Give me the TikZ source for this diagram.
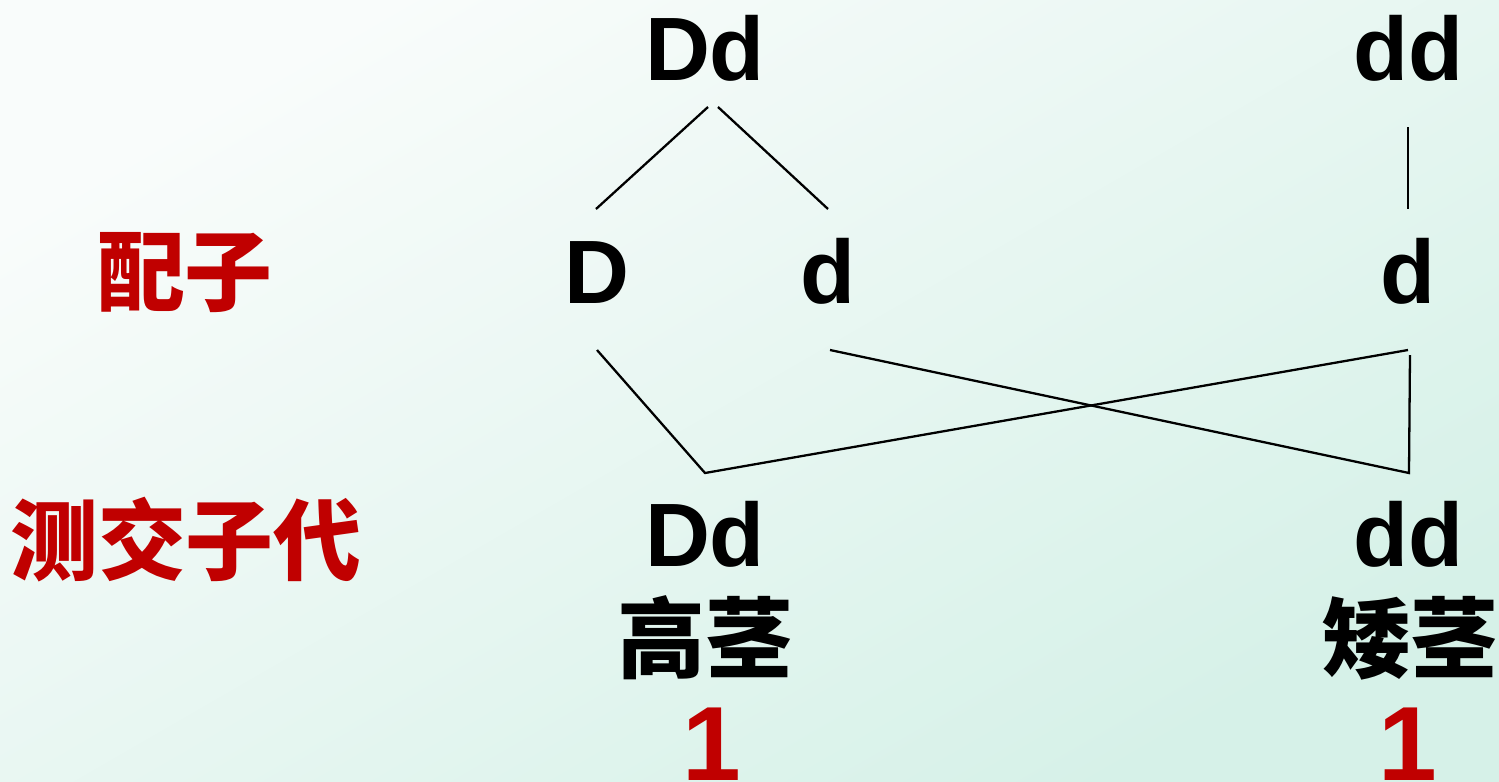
\documentclass[tikz,border=0pt]{standalone}
\usepackage{fontspec}
\usetikzlibrary{shadings}
\setmainfont{Liberation Sans}
\newfontfamily\cjk{Noto Sans CJK SC}
\definecolor{myred}{HTML}{C00000}
\definecolor{bgA}{HTML}{F9FCFB}
\definecolor{bgC}{HTML}{D6F1E8}
\begin{document}
\begin{tikzpicture}[x=0.01cm,y=-0.01cm,
  gen/.style={inner sep=0pt,anchor=base,font=\fontsize{25.6}{30}\selectfont\bfseries},
  han/.style={inner sep=0pt,anchor=center,font=\fontsize{25}{30}\selectfont\cjk\bfseries},
  redhan/.style={han,text=myred},
  ratio/.style={inner sep=0pt,anchor=base,text=myred,font=\fontsize{30}{34}\selectfont\bfseries},
  link/.style={line width=0.65pt,black}]
\shade[top color=bgA,bottom color=bgC,shading angle=30] (0,0) rectangle (1499,781);
\useasboundingbox (0,0) rectangle (1499,781);
% parents
\node[gen] (P1) at (705,80) {Dd};
\node[gen] (P2) at (1408,80) {dd};
% gametes
\node[redhan] (gl) at (185,273) {配子};
\node[gen] (gD) at (597,303) {D};
\node[gen] (gd1) at (828,303) {d};
\node[gen] (gd2) at (1408,303) {d};
% offspring
\node[redhan] (ol) at (186,540) {测交子代};
\node[gen] (o1) at (705,566) {Dd};
\node[gen] (o2) at (1408,566) {dd};
\node[han] (h1) at (705,638) {高茎};
\node[han] (h2) at (1410,638) {矮茎};
\node[ratio] (r1) at (712,780) {1};
\node[ratio] (r2) at (1408,780) {1};
% connector endpoints
\coordinate (a1) at (708,107);
\coordinate (a2) at (718,107);
\coordinate (b1) at (596,209);
\coordinate (b2) at (828,209);
\coordinate (c1) at (1408,127);
\coordinate (c2) at (1408,209);
\coordinate (dD) at (597,350);
\coordinate (dd1) at (830,350);
\coordinate (dd2) at (1408,350);
\coordinate (dd3) at (1410,355);
\coordinate (m1) at (705,473);
\coordinate (m2) at (1409,473);
\draw[link] (a1) -- (b1);
\draw[link] (a2) -- (b2);
\draw[link] (c1) -- (c2);
\draw[link] (dD) -- (m1) -- (dd2);
\draw[link] (dd1) -- (m2) -- (dd3);
\end{tikzpicture}
\end{document}
